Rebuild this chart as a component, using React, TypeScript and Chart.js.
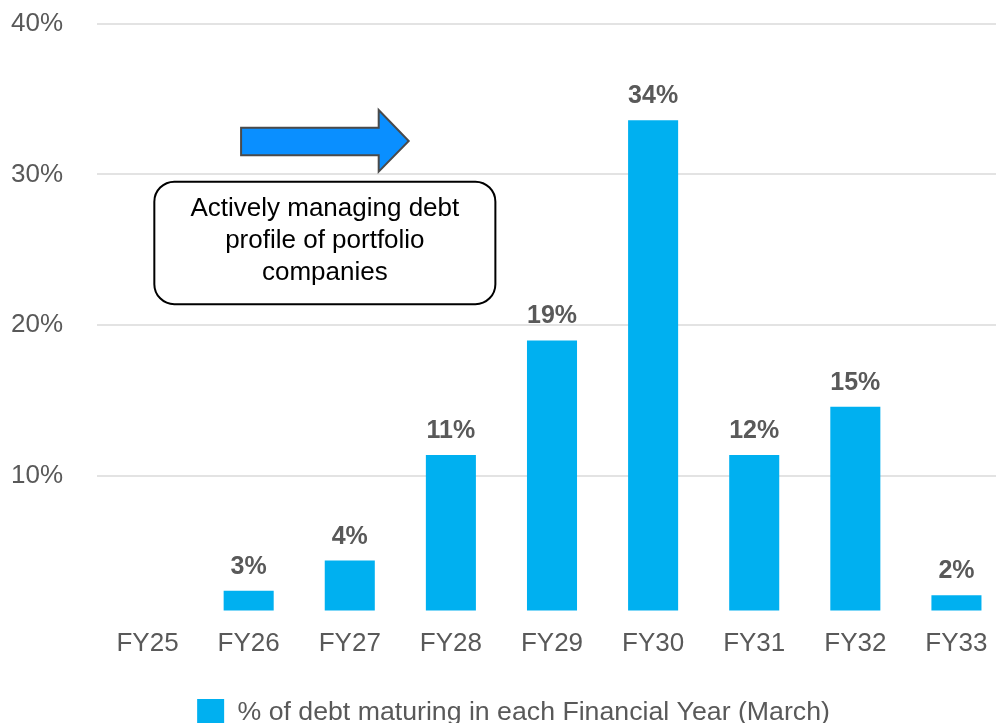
import React, { useEffect, useRef } from "react";
import { Chart, registerables } from "chart.js";

Chart.register(...registerables);

const categories = ["FY25", "FY26", "FY27", "FY28", "FY29", "FY30", "FY31", "FY32", "FY33"];
const debtMaturing: (number | null)[] = [null, 2.4, 4.4, 11.4, 19.0, 33.6, 11.4, 14.6, 2.1];
const valueLabels = ["", "3%", "4%", "11%", "19%", "34%", "12%", "15%", "2%"];
const yTickValues = [10, 20, 30, 40];
const seriesName = "% of debt maturing in each Financial Year (March)";
const noteLines = ["Actively managing debt", "profile of portfolio", "companies"];

// annotation geometry in data units (x: category index, y: percent)
const arrowSpec = { x0: 0.925, xHead: 2.286, xTip: 2.583, yShaftTop: 33.1, yShaftBottom: 31.27, yHeadTop: 34.27, yHeadBottom: 30.19, yMid: 32.22 };
const boxSpec = { x0: 0.067, x1: 3.44, yTop: 29.52, yBottom: 21.4, lineYs: [27.72, 25.6, 23.5] };

const FONT = "'Liberation Sans', Arial, sans-serif";
const GREY = "#595959";

const legendShiftPlugin = {
  id: "legendShift",
  afterLayout(chart: any) {
    if (chart.legend) {
      chart.legend.left += 10;
      chart.legend.right += 10;
    }
  },
};

const annotationPlugin = {
  id: "notes",
  afterDatasetsDraw(chart: any) {
    const ctx = chart.ctx;
    const xs = chart.scales.x;
    const ys = chart.scales.y;
    const px = (v: number) => xs.getPixelForValue(v);
    const py = (v: number) => ys.getPixelForValue(v);

    // data labels
    const meta = chart.getDatasetMeta(0);
    ctx.save();
    ctx.font = `bold 25px ${FONT}`;
    ctx.fillStyle = GREY;
    ctx.textAlign = "center";
    ctx.textBaseline = "middle";
    meta.data.forEach((el: any, i: number) => {
      if (debtMaturing[i] == null) return;
      ctx.fillText(valueLabels[i], el.x, el.y - 24);
    });
    ctx.restore();

    // arrow
    const a = arrowSpec;
    ctx.save();
    ctx.beginPath();
    ctx.moveTo(px(a.x0), py(a.yShaftTop));
    ctx.lineTo(px(a.xHead), py(a.yShaftTop));
    ctx.lineTo(px(a.xHead), py(a.yHeadTop));
    ctx.lineTo(px(a.xTip), py(a.yMid));
    ctx.lineTo(px(a.xHead), py(a.yHeadBottom));
    ctx.lineTo(px(a.xHead), py(a.yShaftBottom));
    ctx.lineTo(px(a.x0), py(a.yShaftBottom));
    ctx.closePath();
    ctx.fillStyle = "#0A8FFF";
    ctx.fill();
    ctx.lineWidth = 2;
    ctx.strokeStyle = "#4A4A4A";
    ctx.stroke();
    ctx.restore();

    // rounded box
    const b = boxSpec;
    const l = px(b.x0), r = px(b.x1), t = py(b.yTop), btm = py(b.yBottom);
    ctx.save();
    ctx.beginPath();
    ctx.roundRect(l, t, r - l, btm - t, 20);
    ctx.fillStyle = "#ffffff";
    ctx.fill();
    ctx.lineWidth = 2;
    ctx.strokeStyle = "#000000";
    ctx.stroke();
    ctx.font = `26px ${FONT}`;
    ctx.fillStyle = "#000000";
    ctx.textAlign = "center";
    ctx.textBaseline = "middle";
    noteLines.forEach((line, i) => {
      ctx.fillText(line, (l + r) / 2, py(b.lineYs[i]));
    });
    ctx.restore();
  },
};

export default function App() {
  const ref = useRef<HTMLCanvasElement | null>(null);
  useEffect(() => {
    if (!ref.current) return;
    const chart = new Chart(ref.current, {
      type: "bar",
      data: {
        labels: categories,
        datasets: [
          {
            label: seriesName,
            data: debtMaturing,
            backgroundColor: "#00B0F0",
            borderWidth: 0,
            barPercentage: 0.495,
            categoryPercentage: 1,
          },
        ],
      },
      options: {
        responsive: false,
        animation: false,
        layout: { padding: { left: 0, right: 8, top: 22, bottom: 0 } },
        plugins: {
          tooltip: { enabled: false },
          legend: {
            position: "bottom",
            labels: {
              boxWidth: 27,
              boxHeight: 27,
              color: GREY,
              font: { size: 26.7, family: FONT },
              padding: 30.6,
            },
          },
        },
        scales: {
          x: {
            grid: { display: false },
            border: { display: false },
            ticks: { color: GREY, font: { size: 26, family: FONT }, padding: 9.4 },
          },
          y: {
            min: 1.1,
            max: 40,
            afterBuildTicks: (s: any) => {
              s.ticks = yTickValues.map((v) => ({ value: v }));
            },
            afterFit: (s: any) => {
              s.width = 97;
            },
            grid: { color: "#E3E3E3", lineWidth: 2, drawTicks: false },
            border: { display: false },
            ticks: {
              color: GREY,
              font: { size: 26, family: FONT },
              padding: 34,
              callback: (v: any) => `${v}%`,
            },
          },
        },
      },
      plugins: [legendShiftPlugin, annotationPlugin],
    });
    return () => chart.destroy();
  }, []);
  return (
    <div style={{ position: "fixed", left: 0, top: 0, width: 996, height: 723, overflow: "hidden", background: "#fff" }}>
      <canvas ref={ref} width={1015} height={762} style={{ display: "block", marginTop: -26.5 }} />
    </div>
  );
}
